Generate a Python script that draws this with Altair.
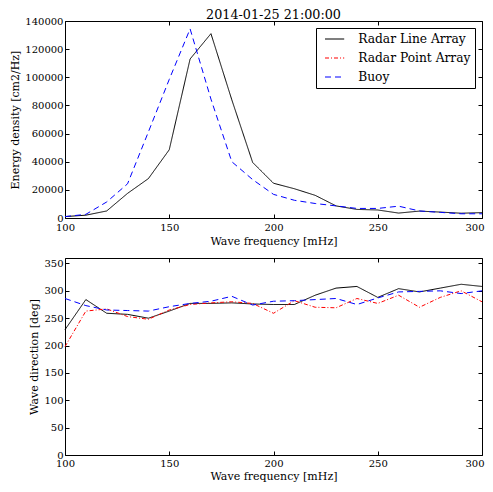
import altair as alt
import pandas as pd

freq = [100, 110, 120, 130, 140, 150, 160, 170, 180, 190, 200,
        210, 220, 230, 240, 250, 260, 270, 280, 290, 300]

energy_line = [1000, 2000, 5000, 17500, 28000, 48500, 113000, 131000, 84000, 39500, 24700,
               20800, 16100, 8600, 6100, 5700, 3500, 4900, 4200, 3400, 3800]
energy_buoy = [1000, 2600, 11400, 24300, 61200, 98500, 134400, 84500, 40000, 27300, 16800,
               12600, 10300, 8600, 6800, 6800, 8400, 5000, 4000, 3000, 3000]

dir_line = [229, 284, 259, 257, 250, 263, 277, 277, 278, 276, 275,
            275, 292, 305, 308, 288, 304, 298, 305, 312, 308]
dir_point = [198, 263, 267, 253, 248, 265, 275, 278, 280, 277, 259,
             282, 270, 269, 286, 277, 292, 270, 288, 300, 280]
dir_buoy = [286, 273, 265, 264, 263, 271, 277, 281, 290, 274, 281,
            282, 284, 286, 275, 287, 298, 299, 300, 295, 300]

series = ["Radar Line Array", "Radar Point Array", "Buoy"]
colors = ["#000000", "#ff0000", "#0000ff"]
dashes = [[1, 0], [4, 2, 1, 2], [6, 4]]

x_ticks = [100, 150, 200, 250, 300]
energy_ticks = [0, 20000, 40000, 60000, 80000, 100000, 120000, 140000]
dir_ticks = [0, 50, 100, 150, 200, 250, 300, 350]

FONT = "DejaVu Serif"


def long_df(pairs):
    rows = []
    for name, vals in pairs:
        for f, v in zip(freq, vals):
            rows.append({"f": f, "v": v, "s": name})
    return pd.DataFrame(rows)


energy_df = long_df([("Radar Line Array", energy_line), ("Buoy", energy_buoy)])
dir_df = long_df([("Radar Line Array", dir_line), ("Radar Point Array", dir_point),
                  ("Buoy", dir_buoy)])

last_label_shift = {"condition": {"test": "datum.value == 300", "value": -7.5}, "value": 0}


def panel(df, ydomain, yticks, ytitle, show_legend, lab_pad, title_pad):
    xscale = alt.Scale(domain=[100, 300], nice=False, zero=False)
    yscale = alt.Scale(domain=ydomain, nice=False)
    if show_legend:
        cleg = alt.Legend(title=None)
        dleg = alt.Legend(title=None)
    else:
        cleg = None
        dleg = None
    lines = alt.Chart(df).mark_line(strokeWidth=1).encode(
        x=alt.X("f:Q", scale=xscale,
                axis=alt.Axis(orient="bottom", values=x_ticks, title="Wave frequency [mHz]",
                              offset=-4, tickSize=4, labelPadding=lab_pad,
                              titlePadding=title_pad, labelOffset=last_label_shift,
                              domain=False, grid=False, format="d", minExtent=0,
                              labelFlush=False)),
        y=alt.Y("v:Q", scale=yscale,
                axis=alt.Axis(orient="left", values=yticks, title=ytitle,
                              offset=-4, tickSize=4, labelPadding=2, titlePadding=4,
                              domain=False, grid=False, format="d", minExtent=0,
                              labelFlush=False)),
        color=alt.Color("s:N", scale=alt.Scale(domain=series, range=colors), legend=cleg),
        strokeDash=alt.StrokeDash("s:N", scale=alt.Scale(domain=series, range=dashes),
                                  legend=dleg),
    )
    mirror = alt.Chart(df).mark_line(opacity=0).encode(
        x=alt.X("f:Q", axis=alt.Axis(orient="top", values=x_ticks, labels=False, title=None,
                                     offset=-4, tickSize=4, domain=False, grid=False,
                                     minExtent=0, maxExtent=0)),
        y=alt.Y("v:Q", axis=alt.Axis(orient="right", values=yticks, labels=False, title=None,
                                     offset=-4, tickSize=4, domain=False, grid=False,
                                     minExtent=0, maxExtent=0)),
        detail="s:N",
    )
    return alt.layer(lines, mirror).resolve_axis(x="independent", y="independent").properties(
        width=417, height=197)


top = panel(energy_df, [0, 140000], energy_ticks, "Energy density [cm2/Hz]", True, 4, 3
            ).properties(
    title=alt.Title("2014-01-25 21:00:00", fontSize=12.75, font=FONT, fontWeight="normal",
                    offset=-6, color="black"))
bottom = panel(dir_df, [0, 360], dir_ticks, "Wave direction [deg]", False, 3, 2)

chart = alt.vconcat(
    top, bottom, spacing=10, background="white",
    padding={"left": 1, "top": 0, "right": 0, "bottom": 0},
).resolve_scale(
    color="independent", strokeDash="independent"
).configure_axis(
    labelFont=FONT, titleFont=FONT, labelFontSize=10, titleFontSize=11,
    titleFontWeight="normal", labelColor="black", titleColor="black", tickColor="black",
    tickWidth=1,
).configure_view(
    stroke="black", strokeWidth=1
).configure_legend(
    orient="top-right", offset=7, strokeColor="black", fillColor="white", padding=4,
    labelFont=FONT, labelFontSize=12.25, labelColor="black", symbolType="M-1.6,0L1.6,0",
    symbolSize=144, symbolStrokeWidth=1.2, labelOffset=16.6, rowPadding=5,
    symbolOffset=7.6, cornerRadius=0,
)

chart.save("out.html", embed_options={"renderer": "svg", "actions": False})
